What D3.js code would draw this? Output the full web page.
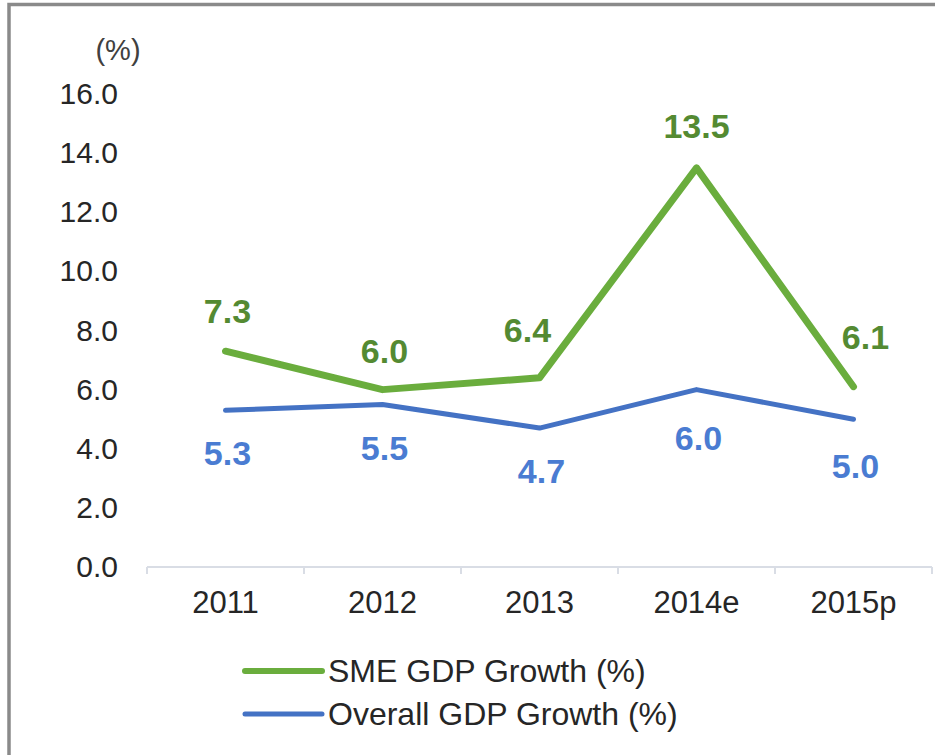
<!DOCTYPE html>
<html>
<head>
<meta charset="utf-8">
<script src="https://cdn.jsdelivr.net/npm/d3@7"></script>
<style>
  body { margin: 0; background: #fff; }
  text { font-family: "Liberation Sans", Arial, sans-serif; }
</style>
</head>
<body>
<div id="chart"></div>
<script>
// data
var years = ["2011", "2012", "2013", "2014e", "2015p"];
var smeGrowth = [7.3, 6.0, 6.4, 13.5, 6.1];
var overallGrowth = [5.3, 5.5, 4.7, 6.0, 5.0];
var yTicks = [0, 2, 4, 6, 8, 10, 12, 14, 16];
var seriesNames = ["SME GDP Growth (%)", "Overall GDP Growth (%)"];

var width = 935, height = 755;
var green = "#6aad3d", greenLabel = "#548a32";
var blue = "#4472c4", blueLabel = "#4a7cd2";

// label nudges (pixels) so the numbers sit where the original put them
var smeNudge = [[2, -28], [2, -27], [-12, -36], [0, -30], [12, -38]];
var overallNudge = [[2, 55], [2, 56], [2, 55], [2, 60], [2, 59]];

var svg = d3.select("#chart")
    .append("svg")
    .attr("width", width)
    .attr("height", height);

// outer frame (right and bottom run off the picture)
svg.append("rect")
   .attr("x", 9)
   .attr("y", 4.5)
   .attr("width", 960)
   .attr("height", 800)
   .attr("fill", "none")
   .attr("stroke", "#8a8a8a")
   .attr("stroke-width", 3.5);

// scales
var x = d3.scaleBand()
    .domain(years)
    .range([147, 932]);

var y = d3.scaleLinear()
    .domain([0, 16])
    .range([567, 94]);

var cx = function(d) { return x(d) + x.bandwidth() / 2; };

// y axis labels, no line
var yAxis = d3.axisLeft(y)
    .tickValues(yTicks)
    .tickSize(0)
    .tickPadding(0)
    .tickFormat(d3.format(".1f"));

var gy = svg.append("g")
    .attr("transform", "translate(118,0)")
    .call(yAxis);
gy.select(".domain").remove();
gy.selectAll("text")
  .attr("font-size", 30)
  .attr("font-family", "Liberation Sans, Arial, sans-serif")
  .attr("fill", "#262626");

// unit label
svg.append("text")
   .attr("x", 118)
   .attr("y", 60)
   .attr("text-anchor", "middle")
   .attr("font-size", 29)
   .attr("fill", "#404040")
   .text("(%)");

// x axis line with ticks between categories
var gx = svg.append("g").attr("class", "xaxis");
gx.append("line")
  .attr("x1", x.range()[0]).attr("x2", x.range()[1])
  .attr("y1", y(0)).attr("y2", y(0))
  .attr("stroke", "#d9dde5")
  .attr("stroke-width", 2);

var bounds = years.map(function(d) { return x(d); }).concat([x.range()[1]]);
gx.selectAll(".tick")
  .data(bounds)
  .enter().append("line")
  .attr("x1", function(d) { return d; })
  .attr("x2", function(d) { return d; })
  .attr("y1", y(0))
  .attr("y2", y(0) + 7)
  .attr("stroke", "#d9dde5")
  .attr("stroke-width", 2);

gx.selectAll(".label")
  .data(years)
  .enter().append("text")
  .attr("x", cx)
  .attr("y", 613)
  .attr("text-anchor", "middle")
  .attr("font-size", 31)
  .attr("fill", "#262626")
  .text(function(d) { return d; });

// lines
var line = d3.line()
    .x(function(d, i) { return cx(years[i]); })
    .y(function(d) { return y(d); });

svg.append("path")
   .datum(overallGrowth)
   .attr("d", line)
   .attr("fill", "none")
   .attr("stroke", blue)
   .attr("stroke-width", 5)
   .attr("stroke-linecap", "round")
   .attr("stroke-linejoin", "round");

svg.append("path")
   .datum(smeGrowth)
   .attr("d", line)
   .attr("fill", "none")
   .attr("stroke", green)
   .attr("stroke-width", 7)
   .attr("stroke-linecap", "round")
   .attr("stroke-linejoin", "round");

// data labels
svg.selectAll(".smeLabel")
   .data(smeGrowth)
   .enter().append("text")
   .attr("x", function(d, i) { return cx(years[i]) + smeNudge[i][0]; })
   .attr("y", function(d, i) { return y(d) + smeNudge[i][1]; })
   .attr("text-anchor", "middle")
   .attr("font-size", 34)
   .attr("font-weight", "bold")
   .attr("fill", greenLabel)
   .text(function(d) { return d.toFixed(1); });

svg.selectAll(".overallLabel")
   .data(overallGrowth)
   .enter().append("text")
   .attr("x", function(d, i) { return cx(years[i]) + overallNudge[i][0]; })
   .attr("y", function(d, i) { return y(d) + overallNudge[i][1]; })
   .attr("text-anchor", "middle")
   .attr("font-size", 34)
   .attr("font-weight", "bold")
   .attr("fill", blueLabel)
   .text(function(d) { return d.toFixed(1); });

// legend
var legendColors = [green, blue];
var legend = svg.selectAll(".legend")
    .data(seriesNames)
    .enter().append("g")
    .attr("transform", function(d, i) { return "translate(245," + (671 + i * 43) + ")"; });

legend.append("line")
      .attr("x1", 0).attr("x2", 77)
      .attr("y1", 0).attr("y2", 0)
      .attr("stroke", function(d, i) { return legendColors[i]; })
      .attr("stroke-width", function(d, i) { return i == 0 ? 6 : 5; })
      .attr("stroke-linecap", "round");

legend.append("text")
      .attr("x", 83)
      .attr("y", 11)
      .attr("font-size", 32)
      .attr("fill", "#262626")
      .text(function(d) { return d; });
</script>
</body>
</html>
